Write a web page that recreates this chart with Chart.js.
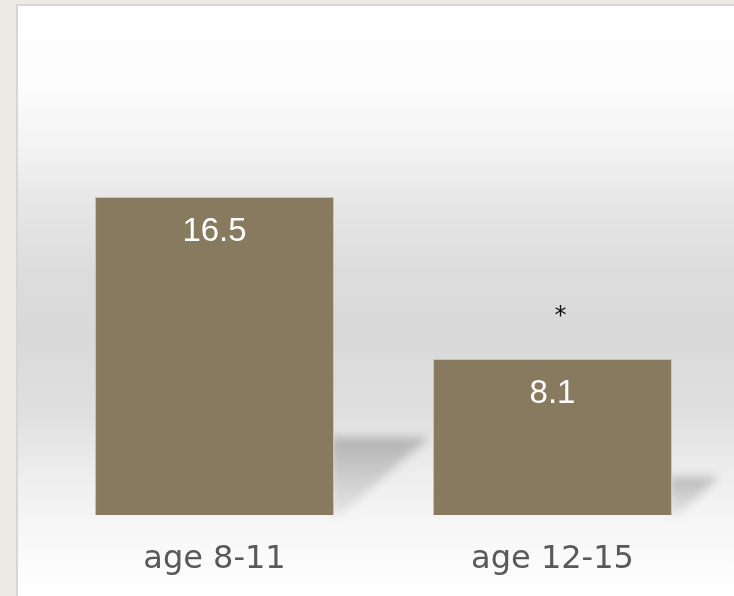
<!DOCTYPE html>
<html>
<head>
<meta charset="utf-8">
<script src="https://cdn.jsdelivr.net/npm/chart.js@4"></script>
<style>
  html, body { margin: 0; padding: 0; }
  body { width: 734px; height: 596px; background: #edeae3; position: relative; overflow: hidden; }
  .painel {
    position: absolute; left: 16px; top: 4px; width: 720px; height: 600px;
    border-left: 2px solid #d6d6d6; border-top: 2px solid #d6d6d6;
    background: linear-gradient(to bottom,
      #ffffff 0px, #fcfcfc 80px, #f3f3f3 140px, #e6e6e6 200px, #dcdcdc 270px,
      #d9d9d9 330px, #e0e0e0 410px, #e6e6e6 435px, #eeeeee 470px,
      #f5f5f5 512px, #fafafa 550px, #ffffff 592px);
  }
  canvas { position: absolute; left: 0; top: 0; }
</style>
</head>
<body>
<div class="painel"></div>
<canvas id="grafico" width="734" height="596"></canvas>
<script>
// dados
const categorias = ['age 8-11', 'age 12-15'];
const valores = [16.5, 8.1];
const marcas = ['', '*'];

// sombra atrás das barras + rótulos
const sombraPlugin = {
    id: 'sombra',
    beforeDatasetsDraw(chart) {
        const ctx = chart.ctx;
        const meta = chart.getDatasetMeta(0);
        meta.data.forEach((bar) => {
            const h = bar.base - bar.y;
            const dir = bar.x + bar.width / 2;
            const topo = bar.base - h * 0.245;
            ctx.save();
            ctx.filter = 'blur(5px)';
            const grad = ctx.createLinearGradient(0, topo, 0, bar.base);
            grad.addColorStop(0, 'rgba(0,0,0,0.22)');
            grad.addColorStop(1, 'rgba(0,0,0,0.06)');
            ctx.fillStyle = grad;
            ctx.beginPath();
            ctx.moveTo(dir - 3, topo);
            ctx.lineTo(dir + h * 0.3, topo);
            ctx.lineTo(dir + 6, bar.base);
            ctx.lineTo(dir - 3, bar.base);
            ctx.closePath();
            ctx.fill();
            ctx.restore();
        });
    },
    afterDatasetsDraw(chart) {
        const ctx = chart.ctx;
        const meta = chart.getDatasetMeta(0);
        meta.data.forEach((bar, i) => {
            ctx.save();
            ctx.textAlign = 'center';
            ctx.textBaseline = 'alphabetic';
            ctx.fillStyle = '#ffffff';
            ctx.font = '33px "Liberation Sans", Arial, sans-serif';
            ctx.fillText(valores[i].toFixed(1), bar.x, bar.y + 44);
            if (marcas[i]) {
                ctx.fillStyle = '#111111';
                ctx.font = '24px "DejaVu Sans", sans-serif';
                ctx.fillText(marcas[i], bar.x + 8, bar.y - 36);
            }
            ctx.restore();
        });
    }
};

const ctx = document.getElementById('grafico').getContext('2d');
const grafico = new Chart(ctx, {
    type: 'bar',
    data: {
        labels: categorias,
        datasets: [{
            data: valores,
            backgroundColor: '#887a5f',
            borderColor: '#c9c1b1',
            borderWidth: 1,
            categoryPercentage: 1,
            barPercentage: 0.707
        }]
    },
    options: {
        responsive: false,
        animation: false,
        layout: {
            padding: { left: 45.5, right: 12.5, top: 33.2, bottom: 0 }
        },
        plugins: {
            legend: { display: false },
            tooltip: { enabled: false }
        },
        scales: {
            x: {
                grid: { display: false },
                border: { display: false },
                ticks: {
                    color: '#595959',
                    font: { family: '"DejaVu Sans", sans-serif', size: 32 },
                    padding: 17
                },
                afterFit(scale) {
                    scale.height = 81;
                }
            },
            y: {
                display: false,
                min: 0,
                max: 25
            }
        }
    },
    plugins: [sombraPlugin]
});
</script>
</body>
</html>
